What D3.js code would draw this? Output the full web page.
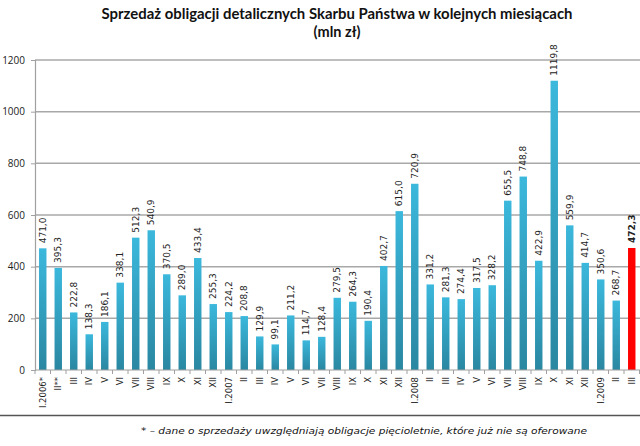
<!DOCTYPE html>
<html><head><meta charset="utf-8">
<script src="https://cdn.jsdelivr.net/npm/d3@7"></script>
<style>body{margin:0;background:#fff}svg{display:block}</style>
</head><body>
<svg id="c" width="640" height="446"></svg>
<script>
const months = ["I.2006*","II**","III","IV","V","VI","VII","VIII","IX","X","XI","XII",
"I.2007","II","III","IV","V","VI","VII","VIII","IX","X","XI","XII",
"I.2008","II","III","IV","V","VI","VII","VIII","IX","X","XI","XII",
"I.2009","II","III"];
const values = [471.0,395.3,222.8,138.3,186.1,338.1,512.3,540.9,370.5,289.0,433.4,255.3,
224.2,208.8,129.9,99.1,211.2,114.7,128.4,279.5,264.3,190.4,402.7,615.0,
720.9,331.2,281.3,274.4,317.5,328.2,655.5,748.8,422.9,1119.8,559.9,414.7,
350.6,268.7,472.3];
const yTicks = [0,200,400,600,800,1000,1200];
const highlightIndex = 38;

const svg = d3.select("#c");
const defs = svg.append("defs");
const g1 = defs.append("linearGradient").attr("id","barg").attr("x1",0).attr("y1",0).attr("x2",0).attr("y2",1);
g1.append("stop").attr("offset","0%").attr("stop-color","#3bb8dc");
g1.append("stop").attr("offset","100%").attr("stop-color","#2a87a1");

const x = d3.scaleBand().domain(d3.range(values.length)).range([35,639.5]).paddingInner(0.52).paddingOuter(0.26);
const y = d3.scaleLinear().domain([0,1200]).range([370,60]);

// gridlines
svg.append("g").selectAll("line").data(yTicks.filter(d=>d>0)).join("line")
  .attr("x1",35).attr("x2",640).attr("y1",d=>y(d)).attr("y2",d=>y(d))
  .attr("stroke","#a8a8a8").attr("stroke-width",1.5);

// y axis
const ya = svg.append("g").attr("transform","translate(35,0)")
  .call(d3.axisLeft(y).tickValues(yTicks).tickFormat(d3.format("d")).tickSize(4).tickPadding(6));
ya.select(".domain").attr("stroke","#a0a0a0").attr("stroke-width",1.2);
ya.selectAll(".tick line").attr("stroke","#a0a0a0");
ya.selectAll("text").attr("font-family","Open Sans, sans-serif").attr("font-size",10).attr("fill","#222");

// bars
svg.append("g").selectAll("rect").data(values).join("rect")
  .attr("x",(d,i)=>x(i)).attr("width",x.bandwidth())
  .attr("y",d=>y(d)).attr("height",d=>y(0)-y(d))
  .attr("fill",(d,i)=>i===highlightIndex?"#ff0000":"url(#barg)");

// x axis line and ticks at band boundaries
svg.append("line").attr("x1",35).attr("x2",640).attr("y1",y(0)).attr("y2",y(0))
  .attr("stroke","#a0a0a0").attr("stroke-width",1.2);
const step = x.step();
const bounds = d3.range(values.length+1).map(i=> i<values.length ? x(i)-step*x.paddingInner()/2 : x(i-1)+x.bandwidth()+step*x.paddingInner()/2);
svg.append("g").selectAll("line").data(bounds).join("line")
  .attr("x1",d=>d).attr("x2",d=>d).attr("y1",y(0)).attr("y2",y(0)+4)
  .attr("stroke","#a0a0a0");

// x labels
svg.append("g").selectAll("text").data(months).join("text")
  .attr("transform",(d,i)=>`translate(${x(i)+x.bandwidth()/2+3},377) rotate(-90)`)
  .attr("text-anchor","end")
  .attr("font-family","DejaVu Sans, sans-serif").attr("font-size",8.5).attr("fill","#222")
  .text(d=>d);

// value labels
svg.append("g").selectAll("text").data(values).join("text")
  .attr("transform",(d,i)=>`translate(${x(i)+x.bandwidth()/2+3.2},${y(d)-5}) rotate(-90)`)
  .attr("text-anchor","start")
  .attr("font-family","DejaVu Sans, sans-serif").attr("font-size",9)
  .attr("font-weight",(d,i)=>i===highlightIndex?"bold":"normal")
  .attr("fill","#222")
  .text(d=>d.toFixed(1).replace(".",","));

// title
svg.append("text").attr("x",337).attr("y",19).attr("text-anchor","middle")
  .attr("font-family","Lato, sans-serif").attr("font-weight","bold").attr("font-size",14.5)
  .attr("textLength",471).attr("lengthAdjust","spacingAndGlyphs").attr("fill","#111")
  .text("Sprzedaż obligacji detalicznych Skarbu Państwa w kolejnych miesiącach");
svg.append("text").attr("x",337).attr("y",37).attr("text-anchor","middle")
  .attr("font-family","Lato, sans-serif").attr("font-weight","bold").attr("font-size",14.5)
  .attr("fill","#111").text("(mln zł)");

// bottom border
svg.append("line").attr("x1",0).attr("x2",640).attr("y1",415.5).attr("y2",415.5)
  .attr("stroke","#555").attr("stroke-width",1.5);

// footnote
svg.append("text").attr("x",141).attr("y",434)
  .attr("font-family","DejaVu Sans, sans-serif").attr("font-style","italic").attr("font-size",9.5)
  .attr("textLength",446).attr("lengthAdjust","spacingAndGlyphs").attr("fill","#111")
  .text("* – dane o sprzedaży uwzględniają obligacje pięcioletnie, które już nie są oferowane");
</script>
</body></html>
